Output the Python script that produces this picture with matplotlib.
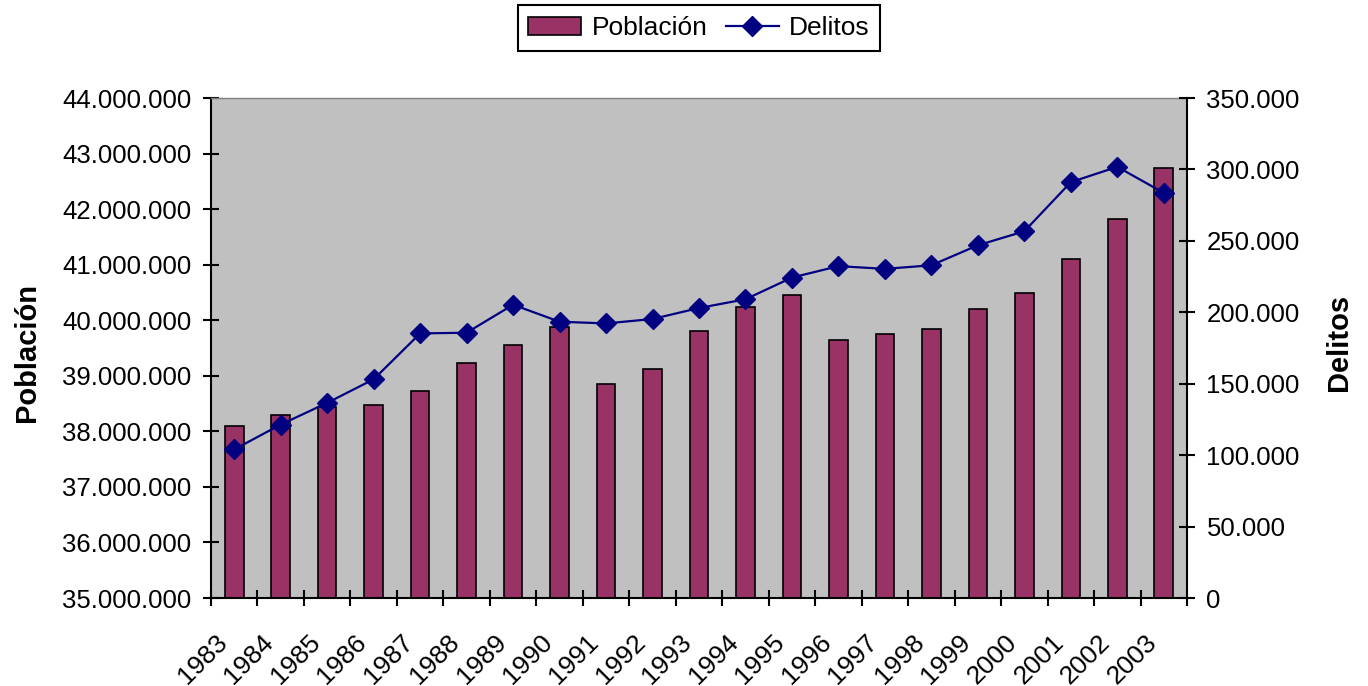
import matplotlib
matplotlib.use("Agg")
import matplotlib.pyplot as plt
from matplotlib.ticker import FuncFormatter, FixedLocator
from matplotlib.transforms import ScaledTranslation
import numpy as np

plt.rcParams['font.family'] = ['Liberation Sans', 'DejaVu Sans']

years = ['1983', '1984', '1985', '1986', '1987', '1988', '1989', '1990', '1991', '1992',
         '1993', '1994', '1995', '1996', '1997', '1998', '1999', '2000', '2001', '2002', '2003']
poblacion = [38100000, 38290000, 38440000, 38470000, 38730000, 39230000, 39560000,
             39880000, 38860000, 39120000, 39810000, 40240000, 40450000, 39650000,
             39760000, 39840000, 40200000, 40490000, 41110000, 41830000, 42740000]
delitos = [104000, 121400, 136600, 153100, 185200, 185700, 205300,
           193400, 192200, 195300, 203000, 209100, 224300, 232300,
           230400, 232900, 246900, 256700, 291100, 301800, 283600]

pob_ticks = [35000000, 36000000, 37000000, 38000000, 39000000, 40000000,
             41000000, 42000000, 43000000, 44000000]
del_ticks = [0, 50000, 100000, 150000, 200000, 250000, 300000, 350000]

bar_color = '#993366'
line_color = '#000080'
fs = 18.5

fig = plt.figure(figsize=(13.68, 6.86), dpi=100)
ax = fig.add_axes([211/1368, 1-598/686, 976/1368, 500/686])
ax.set_facecolor('#C0C0C0')

x = np.arange(len(years))
bars = ax.bar(x, poblacion, width=0.4, color=bar_color, edgecolor='black',
              linewidth=1.2, label='Población', zorder=2)
ax.set_ylim(pob_ticks[0], pob_ticks[-1])
ax.set_xlim(-0.5, len(years) - 0.5)
ax.yaxis.set_major_locator(FixedLocator(pob_ticks))
fmt = FuncFormatter(lambda v, p: f"{v:,.0f}".replace(',', '.'))
ax.yaxis.set_major_formatter(fmt)

ax.set_xticks(np.arange(-0.5, len(years), 1.0))
ax.set_xticklabels([])
ax.set_xticks(x, minor=True)
ax.set_xticklabels(years, minor=True, rotation=45, ha='right', va='center',
                   rotation_mode='anchor', fontsize=19)
ax.tick_params(axis='x', which='major', direction='inout', length=12, width=1.5)
ax.tick_params(axis='x', which='minor', length=0, pad=29)
for lab in ax.get_xticklabels(minor=True):
    lab.set_transform(lab.get_transform() + ScaledTranslation(-11/100, 0, fig.dpi_scale_trans))
ax.tick_params(axis='y', direction='inout', length=12, width=1.5, labelsize=fs, pad=8)

for s in ['left', 'bottom']:
    ax.spines[s].set_linewidth(1.5)
    ax.spines[s].set_color('black')
ax.spines['top'].set_color('#808080')
ax.spines['top'].set_linewidth(1)
ax.spines['right'].set_visible(False)

ax2 = ax.twinx()
line, = ax2.plot(x, delitos, color=line_color, linewidth=1.6, marker='D',
                 markersize=10, markerfacecolor=line_color, markeredgecolor=line_color,
                 label='Delitos', zorder=3)
ax2.set_ylim(del_ticks[0], del_ticks[-1])
ax2.yaxis.set_major_locator(FixedLocator(del_ticks))
ax2.yaxis.set_major_formatter(fmt)
ax2.tick_params(axis='y', direction='inout', length=12, width=1.5, labelsize=fs, pad=8)
for s in ['left', 'top', 'bottom']:
    ax2.spines[s].set_visible(False)
ax2.spines['right'].set_linewidth(1.5)
ax2.spines['right'].set_color('black')

ax.set_ylabel('Población', fontsize=21, fontweight='bold')
ax.yaxis.label.set_va('center')
ax.yaxis.set_label_coords(-0.1885, 0.49)
ax2.set_ylabel('Delitos', fontsize=21, fontweight='bold', rotation=90)
ax2.yaxis.label.set_va('center')
ax2.yaxis.set_label_coords(1.1557, 0.512)

leg = fig.legend([bars, line], ['Población', 'Delitos'], loc='center',
                 bbox_to_anchor=(699/1368, 1-28/686), ncol=2, fontsize=19,
                 frameon=True, fancybox=False, shadow=False, framealpha=1,
                 edgecolor='black', handlelength=2.0, handletextpad=0.4,
                 columnspacing=0.7, borderpad=0.4)
leg.get_frame().set_linewidth(1.5)

fig.savefig('out.png', dpi=100)
